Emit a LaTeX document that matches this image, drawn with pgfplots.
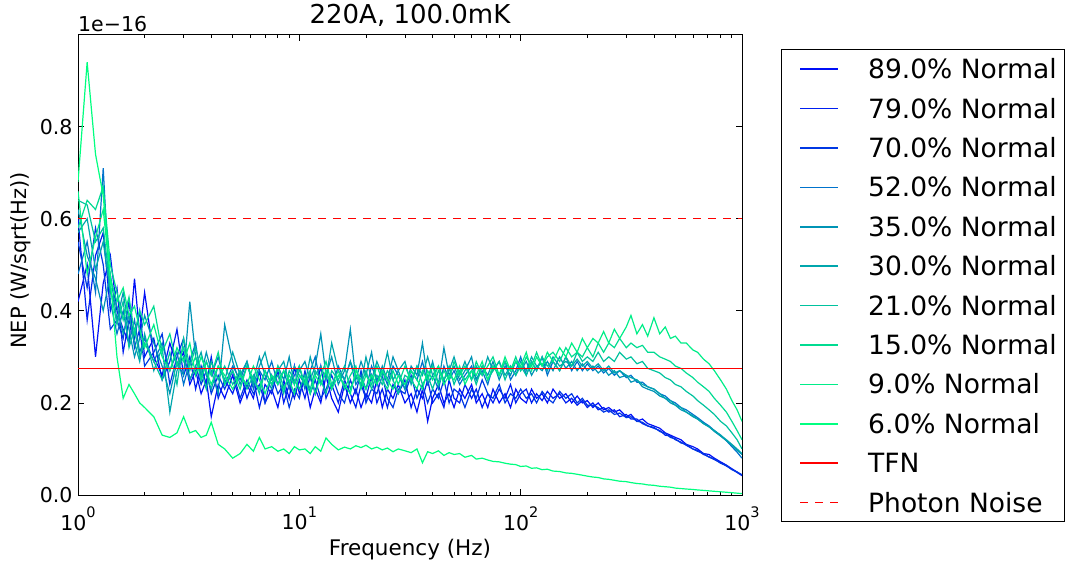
\documentclass[border=0pt]{standalone}
\usepackage{fontspec}
\setmainfont{DejaVu Sans}
\usepackage{pgfplots}
\usepackage{pgfplotstable}
\pgfplotsset{compat=1.18}
\definecolor{c89}{rgb}{0,0.06,0.97}
\definecolor{c79}{rgb}{0,0.12,0.94}
\definecolor{c70}{rgb}{0,0.22,0.89}
\definecolor{c52}{rgb}{0,0.45,0.80}
\definecolor{c35}{rgb}{0,0.58,0.71}
\definecolor{c30}{rgb}{0,0.65,0.68}
\definecolor{c21}{rgb}{0,0.76,0.62}
\definecolor{c15}{rgb}{0,0.86,0.57}
\definecolor{c9}{rgb}{0,0.93,0.535}
\definecolor{c6}{rgb}{0,1,0.5}
\newcommand{\sups}[1]{\raisebox{12.4pt}{\fontsize{14.5}{14.5}\selectfont #1}}
\pgfplotstableread{
f a b c d e g h i j k
1 .42 .60 .55 .48 .62 .57 .64 .58 .66 .68
1.1 .50 .38 .45 .55 .52 .60 .63 .64 .48 .94
1.2 .30 .52 .58 .44 .47 .49 .55 .62 .56 .74
1.3 .46 .57 .50 .71 .40 .55 .58 .67 .62 .65
1.4 .52 .40 .36 .42 .48 .44 .45 .50 .47 .47
1.5 .40 .45 .38 .35 .38 .41 .37 .44 .42 .30
1.6 .36 .31 .34 .40 .44 .35 .42 .38 .45 .21
1.7 .33 .38 .42 .33 .36 .39 .32 .43 .39 .24
1.8 .47 .34 .32 .38 .30 .33 .36 .35 .41 .22
1.9 .35 .40 .36 .31 .34 .29 .30 .40 .36 .20
2 .44 .30 .28 .34 .39 .35 .33 .37 .32 .19
2.2 .30 .34 .31 .29 .33 .27 .29 .41 .37 .17
2.4 .26 .25 .35 .33 .28 .32 .25 .31 .30 .13
2.6 .33 .29 .24 .27 .22 .18 .31 .35 .27 .125
2.8 .28 .36 .30 .31 .29 .27 .24 .28 .32 .135
3 .31 .26 .34 .24 .26 .30 .34 .32 .29 .17
3.2 .24 .30 .25 .29 .42 .25 .28 .27 .33 .135
3.4 .27 .23 .28 .33 .30 .28 .32 .30 .26 .14
3.6 .22 .28 .24 .25 .26 .31 .27 .25 .30 .125
3.8 .25 .24 .27 .29 .31 .26 .23 .29 .27 .13
4 .17 .30 .22 .26 .27 .23 .29 .26 .24 .158
4.3 .24 .21 .26 .30 .22 .28 .25 .31 .28 .11
4.6 .21 .25 .23 .24 .37 .25 .28 .24 .26 .10
5 .26 .22 .27 .28 .29 .31 .24 .27 .23 .08
5.4 .20 .27 .21 .25 .24 .26 .27 .23 .26 .09
5.8 .24 .21 .25 .29 .28 .29 .23 .28 .24 .11
6.2 .21 .25 .22 .23 .25 .24 .26 .25 .28 .095
6.6 .27 .19 .24 .27 .30 .28 .22 .23 .25 .125
7 .20 .24 .20 .25 .26 .31 .27 .27 .22 .10
7.5 .23 .22 .26 .29 .23 .25 .24 .24 .26 .105
8 .19 .27 .22 .24 .28 .27 .26 .28 .24 .095
8.5 .25 .20 .24 .27 .25 .29 .22 .23 .27 .10
9 .21 .24 .19 .23 .30 .24 .27 .26 .25 .09
9.5 .28 .21 .23 .26 .24 .28 .25 .24 .22 .105
10 .22 .25 .21 .28 .27 .26 .23 .28 .26 .098
10.6 .25 .21 .27 .23 .29 .24 .26 .24 .25 .10
11.2 .19 .26 .22 .27 .25 .30 .23 .27 .22 .09
11.8 .23 .22 .25 .30 .28 .26 .27 .22 .26 .105
12.5 .20 .28 .21 .24 .35 .28 .25 .26 .24 .095
13.2 .26 .21 .23 .27 .26 .25 .22 .29 .27 .124
14 .21 .24 .26 .23 .30 .33 .27 .24 .23 .11
15 .18 .20 .22 .28 .24 .27 .25 .27 .26 .098
16 .24 .25 .20 .25 .27 .25 .28 .23 .24 .104
17 .20 .22 .25 .29 .36 .29 .23 .26 .22 .10
18 .23 .19 .22 .24 .25 .26 .26 .28 .27 .107
19 .19 .24 .27 .26 .29 .24 .24 .23 .25 .103
20 .22 .21 .20 .23 .26 .30 .27 .26 .23 .108
21.2 .20 .26 .23 .28 .31 .25 .23 .24 .26 .10
22.4 .25 .20 .22 .25 .24 .29 .26 .28 .24 .104
23.7 .19 .23 .26 .27 .28 .26 .24 .25 .27 .098
25 .23 .19 .21 .24 .25 .31 .27 .23 .25 .102
26.5 .21 .24 .19 .28 .30 .25 .25 .27 .23 .094
28 .24 .22 .23 .26 .27 .27 .22 .24 .26 .10
30 .20 .25 .22 .23 .23 .29 .26 .28 .24 .096
32 .22 .19 .26 .27 .28 .24 .25 .25 .27 .092
34 .18 .23 .21 .25 .26 .28 .28 .23 .25 .10
36 .23 .21 .24 .29 .33 .26 .24 .27 .23 .07
38 .16 .25 .20 .24 .25 .30 .26 .25 .27 .094
40 .21 .20 .23 .26 .29 .26 .23 .28 .25 .09
42.5 .24 .22 .21 .23 .24 .28 .27 .24 .28 .096
45 .20 .19 .25 .28 .32 .25 .25 .27 .24 .086
47.5 .22 .25 .20 .25 .26 .27 .28 .25 .26 .092
50 .19 .21 .23 .27 .28 .30 .24 .29 .25 .088
53 .23 .20 .22 .24 .25 .26 .27 .26 .28 .09
56 .21 .24 .19 .26 .27 .29 .25 .28 .24 .082
60 .24 .21 .23 .28 .30 .25 .27 .25 .27 .086
63 .20 .23 .21 .25 .25 .28 .24 .29 .26 .078
67 .22 .19 .25 .27 .28 .26 .28 .26 .29 .08
71 .19 .22 .22 .24 .26 .30 .25 .28 .25 .076
75 .23 .20 .21 .28 .29 .27 .27 .30 .28 .073
80 .20 .23 .24 .26 .25 .29 .29 .26 .26 .072
85 .22 .21 .20 .29 .28 .26 .25 .29 .30 .069
90 .19 .24 .22 .25 .26 .28 .28 .27 .27 .067
95 .23 .20 .21 .27 .29 .26 .26 .30 .29 .066
100 .21 .22 .23 .30 .27 .29 .28 .27 .28 .062
106 .20 .23 .21 .26 .29 .27 .26 .30 .31 .063
112 .23 .20 .22 .29 .26 .30 .29 .28 .27 .058
118 .21 .22 .20 .27 .28 .28 .27 .31 .30 .059
125 .22 .205 .225 .30 .27 .285 .30 .28 .28 .055
132 .20 .225 .21 .26 .29 .27 .28 .30 .31 .056
140 .23 .21 .20 .29 .27 .30 .29 .31 .29 .052
150 .21 .22 .225 .27 .30 .28 .27 .29 .32 .051
160 .22 .20 .21 .30 .275 .29 .30 .32 .30 .048
170 .20 .21 .22 .27 .29 .28 .28 .30 .33 .047
180 .215 .195 .20 .29 .27 .295 .31 .31 .31 .045
190 .20 .205 .21 .27 .285 .28 .29 .30 .34 .043
200 .205 .19 .195 .285 .27 .29 .30 .32 .32 .041
212 .19 .20 .195 .27 .28 .275 .29 .30 .34 .039
224 .20 .185 .19 .28 .265 .285 .31 .33 .33 .038
237 .185 .19 .18 .265 .275 .27 .29 .31 .355 .035
250 .19 .18 .185 .275 .26 .28 .30 .33 .33 .034
265 .18 .185 .175 .26 .27 .265 .29 .32 .36 .032
280 .185 .17 .178 .27 .255 .27 .31 .34 .34 .030
300 .17 .175 .168 .255 .26 .26 .295 .32 .365 .029
315 .175 .165 .17 .26 .245 .255 .30 .33 .39 .027
335 .16 .165 .16 .245 .25 .25 .285 .32 .35 .025
355 .165 .155 .158 .245 .235 .24 .29 .325 .37 .024
375 .155 .15 .15 .235 .23 .235 .275 .31 .345 .022
400 .15 .145 .147 .23 .225 .23 .27 .31 .385 .021
425 .145 .14 .138 .22 .215 .22 .265 .30 .35 .019
450 .135 .13 .134 .215 .21 .21 .255 .295 .365 .018
475 .13 .128 .125 .205 .20 .205 .25 .29 .34 .017
500 .125 .12 .122 .20 .195 .195 .24 .28 .345 .015
530 .12 .115 .113 .19 .185 .19 .235 .275 .33 .014
560 .11 .108 .11 .185 .18 .18 .225 .265 .33 .013
600 .105 .10 .10 .175 .17 .172 .215 .255 .315 .012
630 .10 .097 .095 .168 .165 .165 .205 .245 .31 .011
670 .09 .088 .09 .158 .155 .155 .195 .235 .295 .010
710 .088 .083 .082 .15 .148 .148 .185 .225 .285 .009
750 .08 .077 .078 .14 .138 .14 .175 .21 .27 .008
800 .072 .07 .069 .13 .128 .13 .16 .195 .25 .007
850 .065 .063 .064 .118 .118 .12 .15 .18 .23 .006
900 .057 .056 .055 .105 .108 .11 .135 .16 .205 .005
950 .05 .049 .05 .093 .097 .10 .12 .14 .185 .004
1000 .043 .042 .044 .08 .088 .09 .10 .12 .16 .003
}\nep
\begin{document}
\begin{tikzpicture}
\path[use as bounding box] (0,0) rectangle (1075pt,571pt);
\begin{axis}[
  at={(78pt,76pt)}, anchor=south west,
  scale only axis, width=664pt, height=460pt,
  xmode=log, xmin=1, xmax=1000, ymin=0, ymax=0.999,
  xtick={1,10,100,1000},
  minor xtick={2,3,4,5,6,7,8,9,20,30,40,50,60,70,80,90,200,300,400,500,600,700,800,900},
  xticklabels={10\sups{0},10\sups{1},10\sups{2},10\sups{3}},
  ytick={0,0.2,0.4,0.6,0.8},
  /pgf/number format/assume math mode=true,
  yticklabel={\pgfmathprintnumber[fixed,fixed zerofill,precision=1]{\tick}},
  tick label style={font=\fontsize{20.5}{20.5}\selectfont},
  xticklabel style={anchor=north, inner sep=0pt, yshift=-11.7pt},
  yticklabel style={anchor=east, inner sep=0pt, xshift=-5.3pt},
  major tick length=6pt, minor tick length=3pt,
  tick style={black, line width=0.8pt},
  axis line style={line width=1pt},
  title={220A, 100.0mK},
  title style={at={(0.5,1.0124)}, anchor=base, inner sep=0pt, font=\fontsize{26}{26}\selectfont},
  xlabel={Frequency (Hz)},
  xlabel style={at={(axis description cs:0.5,-0.132)}, anchor=base, inner sep=0pt, font=\fontsize{21.5}{21.5}\selectfont},
  ylabel={NEP (W/sqrt(Hz))},
  ylabel style={at={(axis description cs:-0.0773,0.51)}, anchor=base, inner sep=0pt, font=\fontsize{21}{21}\selectfont},
  every axis plot/.append style={line width=1.2pt},
  no markers,
  legend image code/.code={\node[inner sep=0pt, outer sep=0pt, draw=none] at (0pt,0pt) {};\draw[#1, line width=1.6pt] (11pt,0pt) -- (49pt,0pt);},
  legend cell align=left,
  legend style={at={(1.0587,0.9685)}, anchor=north west, draw=black, line width=0.9pt,
    font=\fontsize{26.5}{26.5}\selectfont, inner xsep=8pt, inner ysep=5.3pt,
    row sep=11.4pt, column sep=29pt,
    nodes={inner sep=0pt, text height=23.5pt, text depth=4.5pt}},
  after end axis/.code={\node[anchor=base west, inner sep=0pt, font=\fontsize{20.5}{20.5}\selectfont] at (rel axis cs:0,1.0072) {1e−16};},
]
\addplot[draw=c89] table[x=f,y=a]{\nep};
\addlegendentry{89.0\% Normal}
\addplot[draw=c79] table[x=f,y=b]{\nep};
\addlegendentry{79.0\% Normal}
\addplot[draw=c70] table[x=f,y=c]{\nep};
\addlegendentry{70.0\% Normal}
\addplot[draw=c52] table[x=f,y=d]{\nep};
\addlegendentry{52.0\% Normal}
\addplot[draw=c35] table[x=f,y=e]{\nep};
\addlegendentry{35.0\% Normal}
\addplot[draw=c30] table[x=f,y=g]{\nep};
\addlegendentry{30.0\% Normal}
\addplot[draw=c21] table[x=f,y=h]{\nep};
\addlegendentry{21.0\% Normal}
\addplot[draw=c15] table[x=f,y=i]{\nep};
\addlegendentry{15.0\% Normal}
\addplot[draw=c9] table[x=f,y=j]{\nep};
\addlegendentry{9.0\% Normal}
\addplot[draw=c6] table[x=f,y=k]{\nep};
\addlegendentry{6.0\% Normal}
\addplot[draw=red, line width=1.2pt] coordinates {(1,0.274) (1000,0.274)};
\addlegendentry{TFN}
\addplot[draw=red, dash pattern=on 8pt off 7pt] coordinates {(1,0.6) (1000,0.6)};
\addlegendentry{Photon Noise}
\end{axis}
\end{tikzpicture}
\end{document}
